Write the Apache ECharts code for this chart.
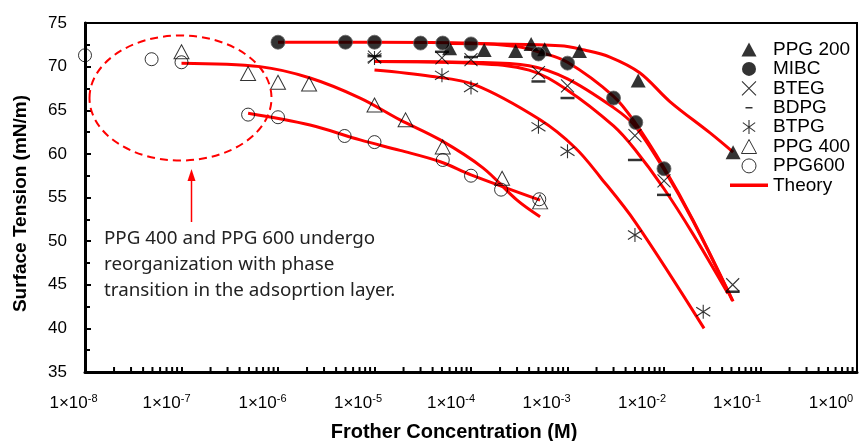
<!DOCTYPE html>
<html>
<head>
<meta charset="utf-8">
<script src="https://cdn.jsdelivr.net/npm/echarts@6/dist/echarts.min.js"></script>
<style>
  html, body { margin: 0; padding: 0; background: #fff; }
  #chart { width: 859px; height: 441px; }
</style>
</head>
<body>
<div id="chart"></div>
<script>
// measured points (concentration in M, surface tension in mN/m)
const ppg200X = [6e-5, 1.37e-4, 2.9e-4, 4.2e-4, 5.8e-4, 1.33e-3, 5.4e-3, 5.2e-2]
const ppg200Y = [72.1, 71.9, 71.8, 72.6, 72.0, 71.8, 68.4, 60.2]

const mibcX = [1e-6, 5e-6, 1e-5, 3e-5, 5.1e-5, 1e-4, 5e-4, 1e-3, 3e-3, 5.1e-3, 1e-2]
const mibcY = [72.8, 72.8, 72.8, 72.7, 72.7, 72.6, 71.45, 70.4, 66.4, 63.6, 58.3]

const btegX = [1e-5, 5e-5, 1e-4, 5e-4, 1e-3, 5e-3, 1e-2, 5.15e-2]
const btegY = [71.1, 71.0, 70.8, 69.3, 67.8, 62.1, 56.9, 45.0]

const bdpgX = [1e-5, 5e-5, 1e-4, 5e-4, 1e-3, 5e-3, 1e-2, 5.15e-2]
const bdpgY = [71.2, 71.7, 71.1, 68.3, 66.4, 59.3, 55.3, 44.2]

const btpgX = [1e-5, 5e-5, 1e-4, 5e-4, 1e-3, 5e-3, 2.55e-2]
const btpgY = [71.0, 69.0, 67.6, 63.1, 60.3, 50.7, 41.9]

const ppg400X = [1e-7, 4.9e-7, 1e-6, 2.1e-6, 1e-5, 2.1e-5, 5.1e-5, 2.1e-4, 5.2e-4]
const ppg400Y = [71.7, 69.2, 68.2, 68.0, 65.6, 63.9, 60.8, 57.2, 54.5]

const ppg600X = [1e-8, 4.9e-8, 1e-7, 4.9e-7, 1e-6, 4.9e-6, 1e-5, 5.1e-5, 1e-4, 2.05e-4, 5.1e-4]
const ppg600Y = [71.3, 70.85, 70.5, 64.5, 64.2, 62.05, 61.35, 59.3, 57.5, 55.9, 54.8]

// theory curves
const thPpg200X = [6e-5, 8.4e-4, 1.5e-3, 2.75e-3, 5.6e-3, 1.15e-2, 3e-2, 5.2e-2]
const thPpg200Y = [72.65, 72.4, 71.9, 71.1, 69.3, 66.0, 62.4, 60.2]

const thMibcX = [1e-6, 1e-5, 1e-4, 3e-4, 5e-4, 1e-3, 3e-3, 5e-3, 1e-2, 2e-2, 5.2e-2]
const thMibcY = [72.8, 72.8, 72.7, 72.3, 71.7, 70.5, 66.6, 63.6, 58.4, 52.4, 43.1]

const thBtegX = [1e-5, 1e-4, 4e-4, 1e-3, 3e-3, 5e-3, 1e-2, 2e-2, 5.1e-2]
const thBtegY = [70.6, 70.5, 70.1, 68.6, 65.3, 63.2, 58.2, 52.3, 43.2]

const thBdpgX = [1e-5, 1e-4, 4e-4, 1e-3, 3e-3, 5e-3, 1e-2, 2e-2, 4.6e-2]
const thBdpgY = [70.6, 70.4, 69.6, 67.3, 63.2, 60.5, 56.0, 50.8, 44.0]

const thBtpgX = [1e-5, 3.8e-5, 1.1e-4, 5.2e-4, 1.2e-3, 2.2e-3, 5.1e-3, 2.6e-2]
const thBtpgY = [69.6, 68.9, 67.9, 63.9, 60.7, 57.3, 52.1, 40.0]

const thPpg400X = [1e-7, 6.5e-7, 2.15e-6, 7.1e-6, 1.84e-5, 4.8e-5, 1.33e-4, 3e-4, 5.2e-4]
const thPpg400Y = [70.4, 70.0, 68.7, 66.4, 63.9, 61.6, 58.4, 54.7, 52.8]

const thPpg600X = [4.9e-7, 2.15e-6, 7.1e-6, 1.84e-5, 4.8e-5, 1e-4, 5.2e-4]
const thPpg600Y = [64.65, 63.3, 61.6, 60.4, 59.1, 57.6, 54.7]

const yTicks = [35, 40, 45, 50, 55, 60, 65, 70, 75]
const note = "PPG 400 and PPG 600 undergo\nreorganization with phase\ntransition in the adsoprtion layer."

// log minor ticks 2..9 of every decade
const minorTicksX = []
for (let e = -8; e < 0; e++) {
	for (let m = 2; m <= 9; m++) minorTicksX.push(m * Math.pow(10, e))
}

// the source draws the x labels a bit left of their ticks, more so to the right
const labelShift = [23, 30, 31, 33, 40, 42, 44, 47, 52]

const pairs = (xs, ys) => xs.map((v, i) => [v, ys[i]])

const xPath = "path://M0,0L10,10M10,0L0,10"
const starPath = "path://M5,0L5,10M0.6,1.8L9.4,8.2M9.4,1.8L0.6,8.2"
const dashPath = "path://M0,0L10,0L10,2L0,2Z"
// legend versions kept square so keepAspect centres them in the 38px slot
const triLegend = "path://M7,0L14,13L0,13Z"
const dashLegend = "path://M0,0L0.01,0L0,0.01Z M3.5,6.2L10.5,6.2L10.5,7.8L3.5,7.8Z M14,14L13.99,14L14,13.99Z"
const lineLegend = "path://M0,0L38,0L38,3.4L0,3.4Z"

const openStyle = { color: "rgba(0,0,0,0)", borderColor: "#000", borderWidth: 1 }
const lineMarkStyle = { color: "#000", borderColor: "#000", borderWidth: 1.1 }

const theory = (xs, ys) => ({
	name: "Theory",
	type: "line",
	data: pairs(xs, ys),
	smooth: 0.35,
	symbol: "none",
	lineStyle: { color: "#ff0000", width: 3 },
	itemStyle: { color: "#ff0000" },
	z: 2,
})

const scatter = (name, xs, ys, symbol, size, style) => ({
	name: name,
	type: "scatter",
	data: pairs(xs, ys),
	symbol: symbol,
	symbolSize: size,
	itemStyle: style,
	z: 5,
})

const xRich = {
	a: { fontFamily: "Liberation Sans", fontSize: 17, color: "#000", lineHeight: 20 },
	s: { fontFamily: "Liberation Sans", fontSize: 11, color: "#000", verticalAlign: "top", lineHeight: 12 },
}
labelShift.forEach((w, i) => {
	xRich["sp" + i] = { width: w }
})

const chart = echarts.init(document.getElementById("chart"), null, { renderer: "canvas" })

const options = {
	animation: false,
	backgroundColor: "#fff",
	grid: {
		left: 85,
		right: 2,
		top: 23,
		bottom: 69,
		outerBoundsMode: "none",
		containLabel: false,
		show: true,
		borderColor: "#000",
		borderWidth: 2,
	},
	xAxis: {
		type: "log",
		logBase: 10,
		min: 1e-8,
		max: 1,
		splitNumber: 8,
		name: "Frother Concentration (M)",
		nameLocation: "middle",
		nameGap: 50,
		nameTextStyle: {
			fontFamily: "Liberation Sans",
			fontWeight: "bold",
			fontSize: 20,
			color: "#000",
			padding: [0, 34, 0, 0],
		},
		axisLine: { show: true, onZero: false, lineStyle: { color: "#000", width: 3 } },
		axisTick: { show: true, inside: true, length: 5, lineStyle: { color: "#000", width: 2 } },
		splitLine: { show: false },
		axisLabel: {
			margin: 21,
			color: "#000",
			formatter: (v) => {
				const e = Math.round(Math.log10(v))
				return "{a|1×10}{s|" + e + "}{sp" + (e + 8) + "|}"
			},
			rich: xRich,
		},
	},
	yAxis: {
		type: "value",
		min: 35,
		max: 75,
		interval: 5,
		name: "Surface Tension (mN/m)",
		nameLocation: "middle",
		nameGap: 55,
		nameTextStyle: {
			fontFamily: "Liberation Sans",
			fontWeight: "bold",
			fontSize: 19,
			color: "#000",
			padding: [0, 12, 0, 0],
		},
		axisLine: { show: true, lineStyle: { color: "#000", width: 3 } },
		axisTick: { show: true, inside: true, length: 6, lineStyle: { color: "#000", width: 2 } },
		minorTick: { show: true, splitNumber: 2, length: 5, lineStyle: { color: "#000", width: 2 } },
		splitLine: { show: false },
		axisLabel: {
			margin: 18,
			fontFamily: "Liberation Sans",
			fontSize: 17,
			color: "#000",
			formatter: (v) => (yTicks.includes(v) ? String(v) : ""),
		},
	},
	legend: {
		orient: "vertical",
		left: 730,
		top: 40,
		itemWidth: 38,
		itemHeight: 14,
		itemGap: 0.4,
		padding: 0,
		textStyle: { fontFamily: "Liberation Sans", fontSize: 19, color: "#000", lineHeight: 19 },
		data: [
			{ name: "PPG 200", icon: triLegend, itemStyle: { color: "#000", borderWidth: 0 } },
			{ name: "MIBC", icon: "circle", itemStyle: { color: "#000", borderWidth: 0 } },
			{ name: "BTEG", icon: xPath, itemStyle: { color: "none", borderColor: "#000", borderWidth: 1.1 } },
			{ name: "BDPG", icon: dashLegend, itemStyle: { color: "#000", borderWidth: 0 } },
			{ name: "BTPG", icon: starPath, itemStyle: { color: "none", borderColor: "#000", borderWidth: 1.1 } },
			{ name: "PPG 400", icon: triLegend, itemStyle: { color: "none", borderColor: "#000", borderWidth: 1 } },
			{ name: "PPG600", icon: "circle", itemStyle: { color: "none", borderColor: "#000", borderWidth: 1 } },
			{ name: "Theory", icon: lineLegend, itemStyle: { color: "#ff0000", borderWidth: 0 } },
		],
	},
	graphic: [
		{
			type: "ellipse",
			shape: { cx: 180.5, cy: 98, rx: 91, ry: 62.5 },
			style: { fill: "none", stroke: "#ff0000", lineWidth: 2, lineDash: [8, 5] },
			z: 10,
		},
		{
			type: "line",
			shape: { x1: 191.5, y1: 222, x2: 191.5, y2: 178 },
			style: { stroke: "#ff0000", lineWidth: 1.5 },
			z: 10,
		},
		{
			type: "polygon",
			shape: { points: [[191.5, 169], [187.5, 181], [195.5, 181]] },
			style: { fill: "#ff0000" },
			z: 10,
		},
		{
			type: "text",
			left: 104,
			top: 226,
			style: {
				text: note,
				fontFamily: "Noto Sans",
				fontSize: 18.8,
				lineHeight: 26,
				fill: "#222",
			},
			z: 10,
		},
	],
	series: [
		theory(thPpg200X, thPpg200Y),
		theory(thMibcX, thMibcY),
		theory(thBtegX, thBtegY),
		theory(thBdpgX, thBdpgY),
		theory(thBtpgX, thBtpgY),
		theory(thPpg400X, thPpg400Y),
		theory(thPpg600X, thPpg600Y),
		scatter("PPG 400", ppg400X, ppg400Y, "triangle", [15, 14], openStyle),
		scatter("PPG600", ppg600X, ppg600Y, "circle", 13, openStyle),
		scatter("BDPG", bdpgX, bdpgY, dashPath, [14, 2.5], { color: "#000" }),
		scatter("BTEG", btegX, btegY, xPath, 13, lineMarkStyle),
		scatter("BTPG", btpgX, btpgY, starPath, 14, lineMarkStyle),
		scatter("PPG 200", ppg200X, ppg200Y, "triangle", [15, 14], { color: "#000" }),
		scatter("MIBC", mibcX, mibcY, "circle", 14, { color: "#000", borderColor: "#666", borderWidth: 1 }),
		{
			name: "minor",
			type: "custom",
			silent: true,
			clip: false,
			z: 6,
			data: minorTicksX.map((v) => [v, 35]),
			renderItem: (params, api) => {
				const p = api.coord([api.value(0), 35])
				return {
					type: "line",
					shape: { x1: p[0], y1: p[1] - 1, x2: p[0], y2: p[1] - 5 },
					style: { stroke: "#000", lineWidth: 2 },
				}
			},
		},
	],
}

chart.setOption(options)
</script>
</body>
</html>
